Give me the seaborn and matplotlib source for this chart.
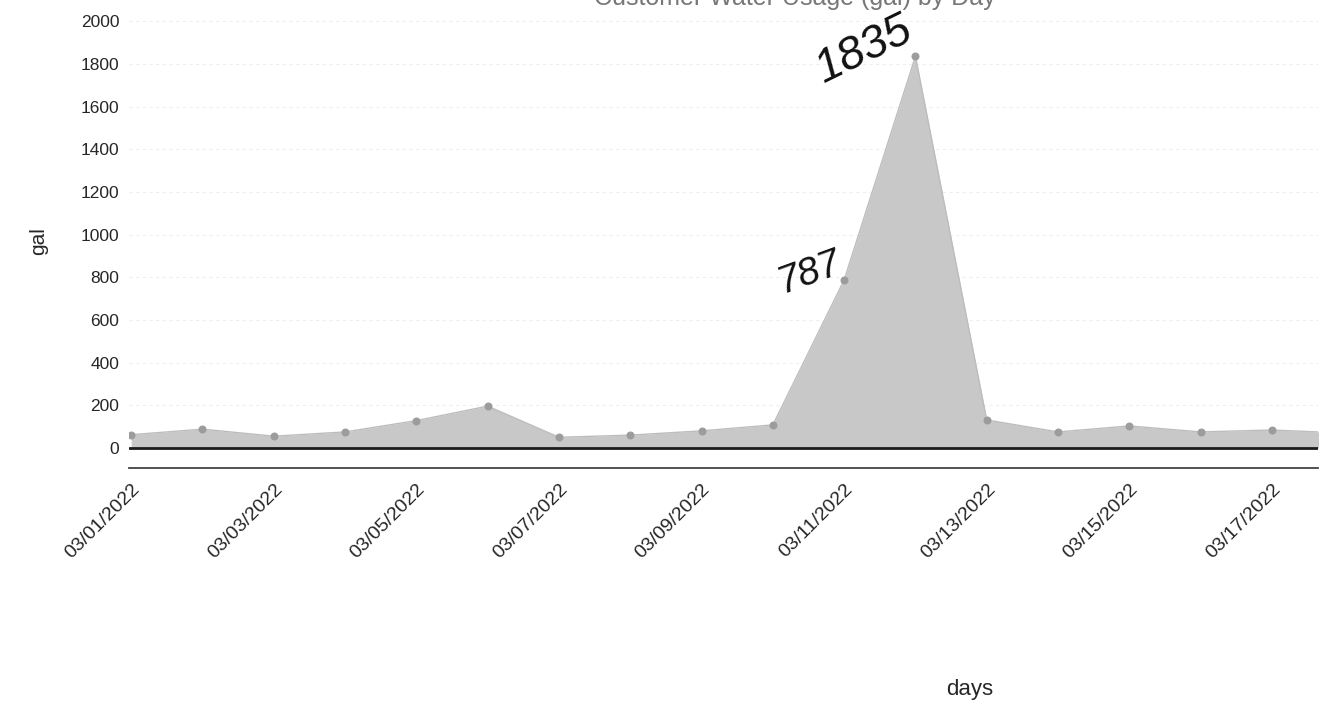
import numpy as np
import matplotlib.pyplot as plt
import seaborn as sns
import pandas as pd

# daily usage (gal)
days = ['03/01/2022', '03/02/2022', '03/03/2022', '03/04/2022', '03/05/2022',
        '03/06/2022', '03/07/2022', '03/08/2022', '03/09/2022', '03/10/2022',
        '03/11/2022', '03/12/2022', '03/13/2022', '03/14/2022', '03/15/2022',
        '03/16/2022', '03/17/2022', '03/18/2022']
gal = [62, 88, 55, 75, 128, 196, 50, 60, 80, 108,
       787, 1835, 131, 75, 103, 75, 84, 70]
y_ticks = [0, 200, 400, 600, 800, 1000, 1200, 1400, 1600, 1800, 2000]

# handwritten notes on the print-out
notes = ['1835', '787']

sns.set_theme(style='white')
plt.rcParams['font.family'] = ['Liberation Sans', 'DejaVu Sans']

df = pd.DataFrame({'day': np.arange(len(days)), 'gal': gal})

fig = plt.figure(figsize=(13.25, 7.08), dpi=100)
ax = fig.add_axes([0.0974, 0.339, 0.8975, 0.6465])

ax.fill_between(df['day'], df['gal'], color='#c8c8c8', lw=0, zorder=1)
sns.lineplot(data=df, x='day', y='gal', ax=ax, color='#bdbdbd', lw=1,
             marker='o', markersize=5, markerfacecolor='#9c9c9c',
             markeredgecolor='#9c9c9c', zorder=3)
ax.axhline(0, color='#1c1c1c', lw=2, zorder=4)

ax.set_xlim(-0.03, 16.65)
ax.set_ylim(-94, 2051)
ax.set_yticks(y_ticks)
ax.set_yticklabels([str(v) for v in y_ticks], fontsize=12.5)
tick_pos = list(range(0, 17, 2))
ax.set_xticks(tick_pos)
ax.set_xticklabels([days[i] for i in tick_pos], rotation=45, ha='right',
                   rotation_mode='anchor', fontsize=14)
ax.tick_params(axis='y', length=0, pad=7)
ax.tick_params(axis='x', length=5, width=1.2, color='#444444', direction='out', pad=4)
ax.yaxis.grid(True, color='#efefef', lw=0.8, ls=(0, (3, 3)))

for side in ['left', 'right', 'top']:
    ax.spines[side].set_visible(False)
ax.spines['bottom'].set_color('#444444')
ax.spines['bottom'].set_linewidth(1.3)

ax.set_xlabel('days', fontsize=16)
ax.set_ylabel('gal', fontsize=15)
ax.xaxis.set_label_coords(0.707, -0.46)
ax.yaxis.set_label_coords(-0.068, 0.496)

# pen annotations
ax.text(10.28, 1865, notes[0], fontsize=33, rotation=26, style='italic',
        color='#111111', ha='center', va='center')
ax.text(9.52, 824, notes[1], fontsize=28, rotation=20, style='italic',
        color='#111111', ha='center', va='center')

fig.text(0.6, 1.003, 'Customer Water Usage (gal) by Day', fontsize=18,
         ha='center', va='center', color='#777777')

plt.savefig('out.png', dpi=100)
